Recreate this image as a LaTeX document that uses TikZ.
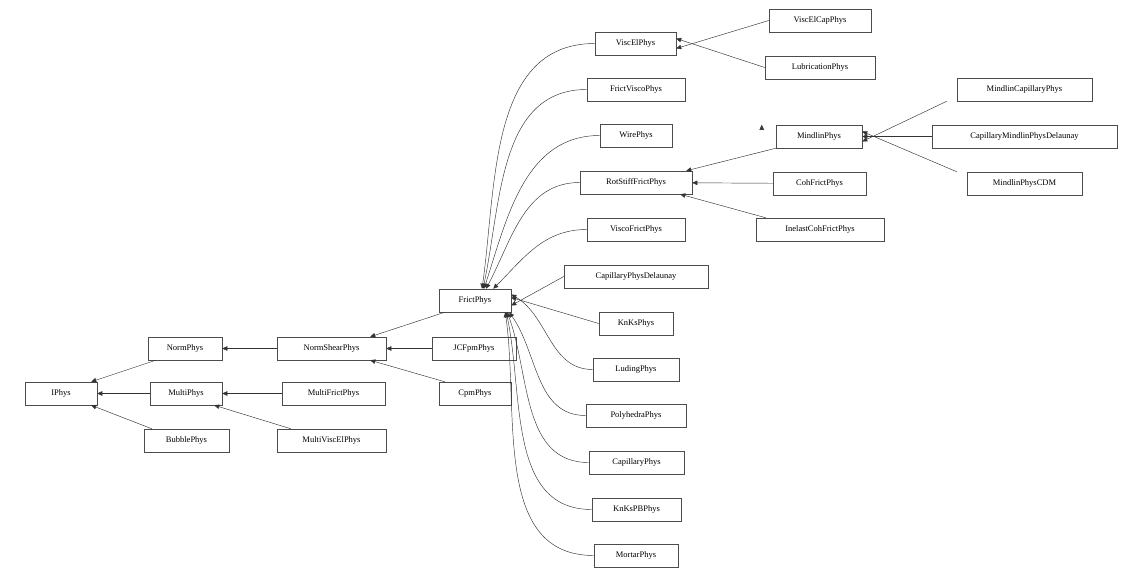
\documentclass[tikz,border=0pt]{standalone}
\usepackage{fontspec}
\setmainfont{Liberation Serif}
\usetikzlibrary{arrows.meta}
\begin{document}
\begin{tikzpicture}[x=1pt,y=-1pt,
  cls/.style={draw=black!70,line width=0.5pt,fill=white,minimum height=23pt,inner xsep=2pt,font=\fontsize{8.5}{10}\selectfont},
  inh/.style={draw=black!80,line width=0.45pt,-{Triangle[length=5pt,width=4.5pt]}}]
\useasboundingbox (0,0) rectangle (1142,579);
\node[cls,minimum width=72] (IPhys) at (61,393.5) {IPhys};
\node[cls,minimum width=74] (NormPhys) at (185,348.5) {NormPhys};
\node[cls,minimum width=72] (MultiPhys) at (186,393.5) {MultiPhys};
\node[cls,minimum width=85] (BubblePhys) at (186.5,440.5) {BubblePhys};
\node[cls,minimum width=109] (NormShearPhys) at (331.5,348.5) {NormShearPhys};
\node[cls,minimum width=103] (MultiFrictPhys) at (333.5,393.5) {MultiFrictPhys};
\node[cls,minimum width=109] (MultiViscElPhys) at (331.5,440.5) {MultiViscElPhys};
\node[cls,minimum width=84] (JCFpmPhys) at (474,348.5) {JCFpmPhys};
\node[cls,minimum width=72] (CpmPhys) at (475,393.5) {CpmPhys};
\node[cls,minimum width=72] (FrictPhys) at (475,300.5) {FrictPhys};
\node[cls,minimum width=81] (ViscElPhys) at (635.5,43.5) {ViscElPhys};
\node[cls,minimum width=98] (FrictViscoPhys) at (636,89.5) {FrictViscoPhys};
\node[cls,minimum width=72] (WirePhys) at (636,135.5) {WirePhys};
\node[cls,minimum width=112] (RotStiffFrictPhys) at (636,182.5) {RotStiffFrictPhys};
\node[cls,minimum width=98] (ViscoFrictPhys) at (636,229.5) {ViscoFrictPhys};
\node[cls,minimum width=144] (CapillaryPhysDelaunay) at (636,276.5) {CapillaryPhysDelaunay};
\node[cls,minimum width=74] (KnKsPhys) at (636,323.5) {KnKsPhys};
\node[cls,minimum width=86] (LudingPhys) at (636,369.5) {LudingPhys};
\node[cls,minimum width=100] (PolyhedraPhys) at (636,415.5) {PolyhedraPhys};
\node[cls,minimum width=95] (CapillaryPhys) at (636.5,462.5) {CapillaryPhys};
\node[cls,minimum width=89] (KnKsPBPhys) at (636.5,509.5) {KnKsPBPhys};
\node[cls,minimum width=84] (MortarPhys) at (636,555.5) {MortarPhys};
\node[cls,minimum width=102] (ViscElCapPhys) at (820,20.5) {ViscElCapPhys};
\node[cls,minimum width=110] (LubricationPhys) at (820,67.5) {LubricationPhys};
\node[cls,minimum width=86] (MindlinPhys) at (819,136.5) {MindlinPhys};
\node[cls,minimum width=93] (CohFrictPhys) at (819.5,183.5) {CohFrictPhys};
\node[cls,minimum width=128] (InelastCohFrictPhys) at (820,229.5) {InelastCohFrictPhys};
\node[cls,minimum width=135] (MindlinCapillaryPhys) at (1024.5,89.5) {MindlinCapillaryPhys};
\node[cls,minimum width=185] (CapillaryMindlinPhysDelaunay) at (1024.5,136.5) {CapillaryMindlinPhysDelaunay};
\node[cls,minimum width=115] (MindlinPhysCDM) at (1024.5,183.5) {MindlinPhysCDM};
% straight edges
\draw[inh] (NormPhys.south west) ++(8,0) coordinate (a1) (a1) -- ([xshift=-6pt]IPhys.north east);
\draw[inh] (MultiPhys) -- (IPhys);
\draw[inh] ([xshift=8pt]BubblePhys.north west) -- ([xshift=-6pt]IPhys.south east);
\draw[inh] (NormShearPhys) -- (NormPhys);
\draw[inh] (MultiFrictPhys) -- (MultiPhys);
\draw[inh] ([xshift=14pt]MultiViscElPhys.north west) -- ([xshift=-8pt]MultiPhys.south east);
\draw[inh] (JCFpmPhys) -- (NormShearPhys);
\draw[inh] ([xshift=6pt]CpmPhys.north west) -- ([xshift=-16pt]NormShearPhys.south east);
\draw[inh] ([xshift=6pt]FrictPhys.south west) -- ([xshift=-16pt]NormShearPhys.north east);
\draw[inh] (ViscElCapPhys.west) -- ([yshift=-5pt]ViscElPhys.east);
\draw[inh] (LubricationPhys.west) -- ([yshift=5pt]ViscElPhys.east);
\draw[inh] ([xshift=-14pt]MindlinPhys.north west) ++(0,0) coordinate (m0);
\draw[inh] ([xshift=-10pt]MindlinCapillaryPhys.south west) -- ([yshift=-5pt]MindlinPhys.east);
\draw[inh] (CapillaryMindlinPhysDelaunay) -- (MindlinPhys);
\draw[inh] ([xshift=-10pt]MindlinPhysCDM.north west) -- ([yshift=5pt]MindlinPhys.east);
\draw[inh] (MindlinPhys.south west) -- ([xshift=-6pt]RotStiffFrictPhys.north east);
\draw[inh] (CohFrictPhys) -- (RotStiffFrictPhys);
\draw[inh] ([xshift=10pt]InelastCohFrictPhys.north west) -- ([xshift=-12pt]RotStiffFrictPhys.south east);
\draw[inh] (CapillaryPhysDelaunay.west) -- ([yshift=-5pt]FrictPhys.east);
\draw[inh] (KnKsPhys.west) -- ([yshift=3pt]FrictPhys.east);
% curved edges into FrictPhys
\draw[inh] (ViscElPhys.west) to[out=180,in=82] ([xshift=7pt]FrictPhys.north);
\draw[inh] (FrictViscoPhys.west) to[out=180,in=78] ([xshift=8pt]FrictPhys.north);
\draw[inh] (WirePhys.west) to[out=180,in=72] ([xshift=9pt]FrictPhys.north);
\draw[inh] (RotStiffFrictPhys.west) to[out=180,in=62] ([xshift=11pt]FrictPhys.north);
\draw[inh] (ViscoFrictPhys.west) to[out=180,in=45] ([xshift=-18pt]FrictPhys.north east);
\draw[inh] (LudingPhys.west) to[out=180,in=-30] ([yshift=6pt]FrictPhys.east);
\draw[inh] (PolyhedraPhys.west) to[out=180,in=-55] ([xshift=-2pt]FrictPhys.south east);
\draw[inh] (CapillaryPhys.west) to[out=180,in=-70] ([xshift=-4pt]FrictPhys.south east);
\draw[inh] (KnKsPBPhys.west) to[out=180,in=-78] ([xshift=-5pt]FrictPhys.south east);
\draw[inh] (MortarPhys.west) to[out=180,in=-82] ([xshift=-6pt]FrictPhys.south east);
\end{tikzpicture}
\end{document}
